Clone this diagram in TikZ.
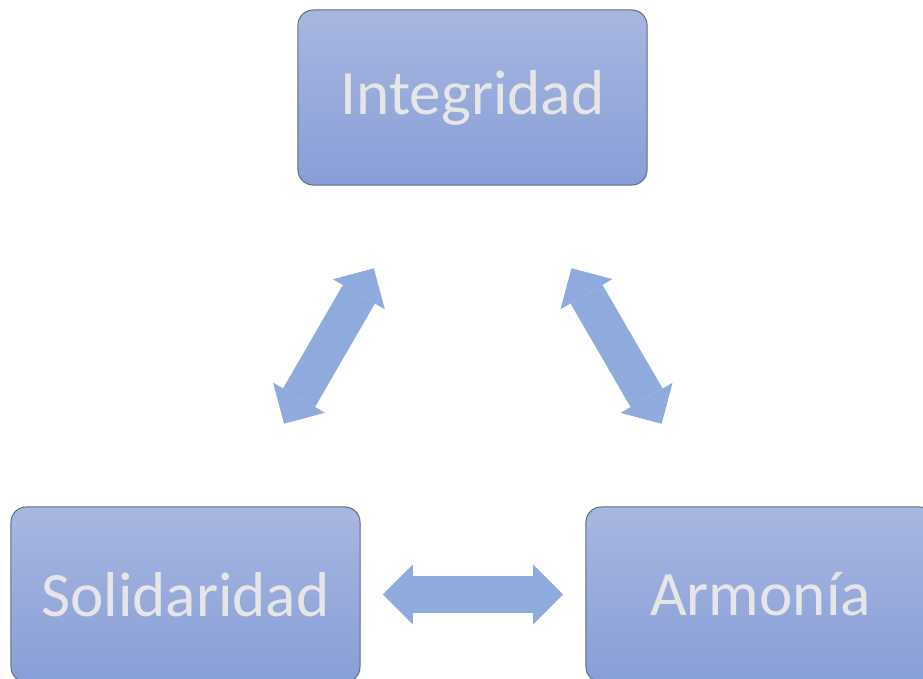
\documentclass[tikz,border=0pt]{standalone}
\usepackage{fontspec}
\setmainfont{Carlito}
\usetikzlibrary{arrows.meta}
\definecolor{boxtop}{HTML}{A8B7E0}
\definecolor{boxbottom}{HTML}{879ED7}
\definecolor{boxline}{HTML}{5C6A82}
\definecolor{arrowblue}{HTML}{8FAADC}
\definecolor{labelgray}{HTML}{E6E6E6}
\tikzstyle{valuebox} = [draw=boxline,line width=0.7pt,rounded corners=0.38cm,top color=boxtop,bottom color=boxbottom,minimum width=8.725cm,minimum height=4.375cm,text=labelgray,font=\fontsize{45}{54}\selectfont]
\tikzstyle{fatlink} = [draw=arrowblue,line width=0.925cm,{Triangle[length=0.75cm,width=1.5cm,line width=0pt]}-{Triangle[length=0.75cm,width=1.5cm,line width=0pt]}]

\begin{document}
\begin{tikzpicture}[x=0.025cm,y=-0.025cm]
  \useasboundingbox (0,0) rectangle (923,679);
  \clip (0,0) rectangle (923,679);
  \node[valuebox] (integridad)  at (472.5,97.5)  {Integridad};
  \node[valuebox] (solidaridad) at (185.5,594.5) {Solidaridad};
  \node[valuebox] (armonia)     at (760.5,594.5) {Armonía};
  \draw[fatlink,shorten <=2.39cm,shorten >=2.39cm] (integridad) -- (solidaridad);
  \draw[fatlink,shorten <=2.39cm,shorten >=2.39cm] (integridad) -- (armonia);
  \draw[fatlink,shorten <=0.56cm,shorten >=0.56cm] (solidaridad) -- (armonia);
\end{tikzpicture}
\end{document}
